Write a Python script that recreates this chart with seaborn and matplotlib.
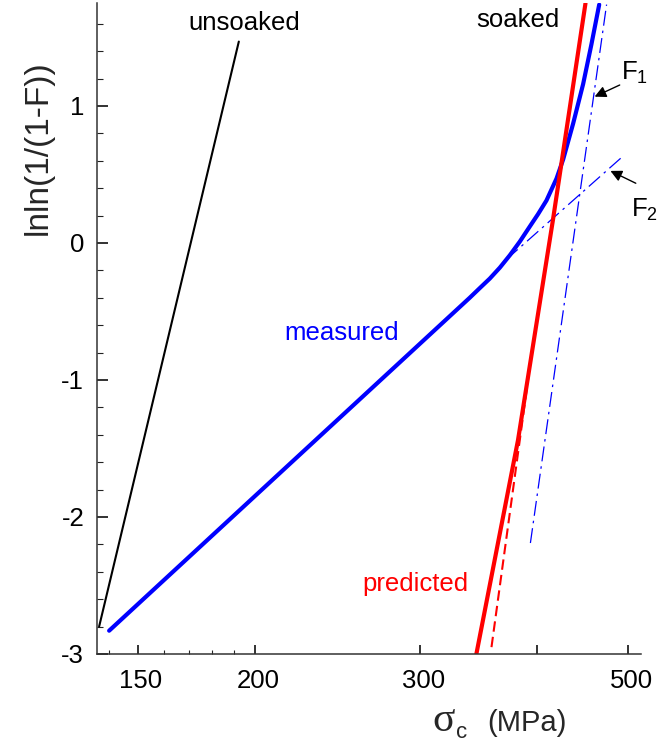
import matplotlib
matplotlib.use("Agg")
import matplotlib.pyplot as plt
import matplotlib.transforms as mtransforms
import seaborn as sns
import pandas as pd
from matplotlib.ticker import FixedLocator, FixedFormatter

# Weibull plot data: stress sigma_c (MPa) vs lnln(1/(1-F))
unsoaked_stress = [136.5, 192.3]
unsoaked_lnln = [-2.80, 1.47]

measured_stress = [139.9, 338.8, 347.2, 355.9, 364.8, 373.8, 383.1, 392.6, 400.6, 409.0,
                   419.2, 426.1, 436.6, 447.5, 456.7, 465.5]
measured_lnln = [-2.83, -0.40, -0.33, -0.26, -0.18, -0.09, 0.01, 0.12, 0.21, 0.31,
                 0.47, 0.61, 0.87, 1.16, 1.45, 1.74]

predicted_stress = [344.4, 381.4, 415.6, 450.1]
predicted_lnln = [-3.00, -1.44, 0.17, 1.75]

predicted_alt_stress = [357.4, 394.5]
predicted_alt_lnln = [-2.95, -0.80]

f1_stress = [393.2, 474.0]
f1_lnln = [-2.19, 1.74]

f2_stress = [370.8, 494.7]
f2_lnln = [-0.12, 0.64]

x_major = [150, 200, 300, 400, 500]
x_major_labels = ["150", "200", "300", "", "500"]
x_minor = [140, 160, 170, 180, 190]
y_major = [-3, -2, -1, 0, 1]
y_minor = [-2.8, -2.6, -2.4, -2.2, -1.8, -1.6, -1.4, -1.2, -0.8, -0.6, -0.4, -0.2,
           0.2, 0.4, 0.6, 0.8, 1.2, 1.4, 1.6]

sns.set_theme(style="ticks")
plt.rcParams["font.family"] = ["Liberation Sans", "DejaVu Sans"]
plt.rcParams["axes.unicode_minus"] = False
plt.rcParams["mathtext.fontset"] = "custom"
plt.rcParams["mathtext.rm"] = "Liberation Sans"
plt.rcParams["mathtext.it"] = "Liberation Sans:italic"

fig = plt.figure(figsize=(6.57, 7.42), dpi=100)
ax = fig.add_axes([0.1472, 0.1186, 0.8285, 0.8778])


def draw(xs, ys, **kw):
    df = pd.DataFrame({"x": xs, "y": ys})
    sns.lineplot(data=df, x="x", y="y", ax=ax, sort=False, estimator=None, **kw)


dashdot = (0, (12, 4, 2, 4))
draw(unsoaked_stress, unsoaked_lnln, color="black", lw=1.5)
draw(f1_stress, f1_lnln, color="#0000FF", lw=0.9, linestyle=dashdot)
draw(f2_stress, f2_lnln, color="#0000FF", lw=0.9, linestyle=dashdot)
draw(predicted_alt_stress, predicted_alt_lnln, color="#FF0000", lw=1.5,
     linestyle=(0, (5, 2.5)))
draw(measured_stress, measured_lnln, color="#0000FF", lw=3.0)
draw(predicted_stress, predicted_lnln, color="#FF0000", lw=3.0)

ax.set_xscale("log")
ax.set_xlim(135.7, 515.8)
ax.set_ylim(-3.0, 1.754)

ax.xaxis.set_major_locator(FixedLocator(x_major))
ax.xaxis.set_major_formatter(FixedFormatter(x_major_labels))
ax.xaxis.set_minor_locator(FixedLocator(x_minor))
ax.xaxis.set_minor_formatter(FixedFormatter([""] * len(x_minor)))
ax.yaxis.set_major_locator(FixedLocator(y_major))
ax.yaxis.set_minor_locator(FixedLocator(y_minor))

for side in ("top", "right"):
    ax.spines[side].set_visible(False)
for side in ("left", "bottom"):
    ax.spines[side].set_color("#333333")
    ax.spines[side].set_linewidth(1.1)

ax.tick_params(axis="both", which="both", direction="in", color="#222222", labelsize=18.5,
               labelcolor="black")
ax.tick_params(axis="x", which="major", length=6.7, width=1.3, pad=11)
ax.tick_params(axis="x", which="minor", length=2.9, width=0.8)
ax.tick_params(axis="y", which="major", length=7.7, width=1.3, pad=9)
ax.tick_params(axis="y", which="minor", length=4.3, width=0.8)

# nudge the x tick labels slightly to the right
shift = mtransforms.ScaledTranslation(3 / 100, 0, fig.dpi_scale_trans)
for lbl in ax.get_xticklabels():
    lbl.set_transform(lbl.get_transform() + shift)

ax.set_xlabel("")
ax.set_ylabel("")

W, H = 657, 742
fig.text(38 / W, 1 - 148 / H, "lnln(1/(1-F))", rotation=90, ha="center", va="center",
         fontsize=24)
# x-axis title: upright sigma with subscript c, then the unit
fig.text(432 / W, 1 - 731 / H, "σ", ha="left", va="baseline", fontsize=30,
         family="Liberation Serif")
fig.text(456 / W, 1 - 738 / H, "c", ha="left", va="baseline", fontsize=16)
fig.text(487 / W, 1 - 731 / H, "(MPa)", ha="left", va="baseline", fontsize=21)

fs = 18.5
ax.text(195.1, 1.555, "unsoaked", ha="center", va="baseline", fontsize=fs, color="black")
ax.text(381.8, 1.577, "soaked", ha="center", va="baseline", fontsize=fs, color="black")
ax.text(247.6, -0.708, "measured", ha="center", va="baseline", fontsize=fs, color="#0000FF")
ax.text(296.4, -2.540, "predicted", ha="center", va="baseline", fontsize=fs, color="#FF0000")
ax.text(491.6, 1.19, r"F$_1$", ha="left", va="baseline", fontsize=fs, color="black",
        clip_on=False)
ax.text(503.8, 0.19, r"F$_2$", ha="left", va="baseline", fontsize=fs, color="black",
        clip_on=False)

arrow = dict(arrowstyle="-|>", color="black", lw=1.0, mutation_scale=17,
             shrinkA=0, shrinkB=0)
ax.annotate("", xy=(460.3, 1.068), xytext=(489.5, 1.153), arrowprops=arrow,
            annotation_clip=False)
ax.annotate("", xy=(478.5, 0.526), xytext=(509.2, 0.436), arrowprops=arrow,
            annotation_clip=False)

fig.savefig("out.png", dpi=100)
